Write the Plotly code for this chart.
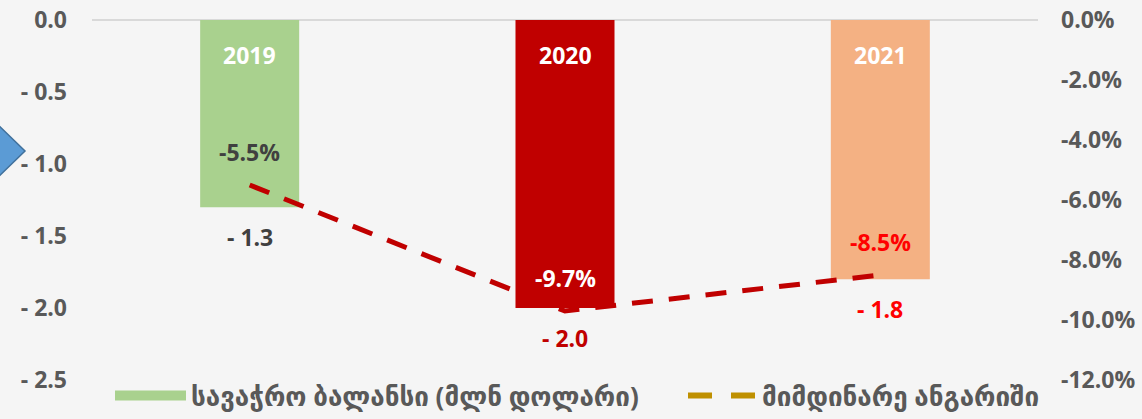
import plotly.graph_objects as go

# ---- data ----
years = ["2019", "2020", "2021"]
trade_balance = [-1.3, -2.0, -1.8]          # bn USD (left axis)
current_account = [-5.5, -9.7, -8.5]        # % (right axis)
bar_colors = ["#a9d18e", "#c00000", "#f4b183"]
bar_label_colors = ["#404040", "#c00000", "#ff0000"]
pct_label_colors = ["#404040", "#ffffff", "#ff0000"]
left_ticks = [0.0, -0.5, -1.0, -1.5, -2.0, -2.5]
left_ticktext = ["0.0", "- 0.5", "- 1.0", "- 1.5", "- 2.0", "- 2.5"]
right_ticks = [0, -2, -4, -6, -8, -10, -12]
right_ticktext = ["0.0%", "-2.0%", "-4.0%", "-6.0%", "-8.0%", "-10.0%", "-12.0%"]
name_bar = "სავაჭრო ბალანსი (მლნ დოლარი)"
name_line = "მიმდინარე ანგარიში"

FONT = "Open Sans, DejaVu Sans, sans-serif"
GREY = "#595959"

W, H = 1142, 419
ML, MR, MT, MB = 92, 104, 20, 39
PW, PH = W - ML - MR, H - MT - MB

fig = go.Figure()

fig.add_trace(go.Bar(
    x=years, y=trade_balance, marker=dict(color=bar_colors, line=dict(width=0)),
    width=0.314, name=name_bar, showlegend=False, yaxis="y", hoverinfo="skip",
))

fig.add_trace(go.Scatter(
    x=years, y=current_account, mode="lines", yaxis="y2",
    line=dict(color="#c00000", width=5, dash="21px,16px"),
    showlegend=False, name=name_line, hoverinfo="skip",
))

# legend-only entries (legend swatches differ from the drawn marks in the original)
fig.add_trace(go.Scatter(
    x=[None], y=[None], mode="lines", yaxis="y",
    line=dict(color=bar_colors[0], width=15),
    name=name_bar, showlegend=True, legend="legend",
))
fig.add_trace(go.Scatter(
    x=[None], y=[None], mode="lines", yaxis="y2",
    line=dict(color="#bf9000", width=6, dash="24px,19px"),
    name=name_line, showlegend=True, legend="legend2",
))

annotations = []
for i, (yr, v, c) in enumerate(zip(years, trade_balance, bar_label_colors)):
    annotations.append(dict(x=i, y=0, xref="x", yref="y", text=yr, showarrow=False,
                            yshift=-35, font=dict(family=FONT, size=23, color="#ffffff", weight="bold")))
    annotations.append(dict(x=i, y=v, xref="x", yref="y", text=f"- {abs(v):.1f}", showarrow=False,
                            yshift=-30, font=dict(family=FONT, size=23, color=c, weight="bold")))
for i, (yr, v, c) in enumerate(zip(years, current_account, pct_label_colors)):
    annotations.append(dict(x=i, y=v, xref="x", yref="y2", text=f"{v:.1f}%", showarrow=False,
                            yshift=33, font=dict(family=FONT, size=23, color=c, weight="bold")))

def px(xp):
    return (xp - ML) / PW

def py(yp):
    return (H - MB - yp) / PH

arrow_path = (f"M {px(-6)} {py(121)} L {px(25)} {py(151)} L {px(-6)} {py(181)} Z")

legend_font = dict(family=FONT, size=26, color=GREY, weight="bold")

fig.update_layout(
    width=W, height=H,
    margin=dict(l=ML, r=MR, t=MT, b=MB, autoexpand=False),
    paper_bgcolor="#f5f5f5", plot_bgcolor="#f5f5f5",
    font=dict(family=FONT, color=GREY, size=18, weight="bold"),
    barmode="overlay",
    xaxis=dict(type="category", range=[-0.5, 2.5], showticklabels=False, showgrid=False,
               zeroline=False, showline=False, fixedrange=True),
    yaxis=dict(range=[-2.5, 0], tickvals=left_ticks, ticktext=left_ticktext, showgrid=False,
               zeroline=True, zerolinecolor="#d9d9d9", zerolinewidth=2, showline=False,
               ticks="", ticklabelstandoff=24,
               tickfont=dict(family=FONT, size=23, color=GREY, weight="bold")),
    yaxis2=dict(range=[-12, 0], overlaying="y", side="right", tickvals=right_ticks,
                ticktext=right_ticktext, showgrid=False, zeroline=False, showline=False,
                ticks="", ticklabelstandoff=22,
                tickfont=dict(family=FONT, size=23, color=GREY, weight="bold")),
    legend=dict(orientation="h", x=px(110), y=py(419), yanchor="bottom", xanchor="left",
                bgcolor="rgba(0,0,0,0)", itemwidth=71, font=legend_font),
    legend2=dict(orientation="h", x=px(683), y=py(419), yanchor="bottom", xanchor="left",
                 bgcolor="rgba(0,0,0,0)", itemwidth=69, font=legend_font),
    annotations=annotations,
    shapes=[dict(type="path", xref="paper", yref="paper", path=arrow_path,
                 fillcolor="#5b9bd5", line=dict(color="#41719c", width=1.5), layer="above")],
    showlegend=True,
)

fig.write_html("out.html", config={"displayModeBar": False},
               post_script="document.body.style.margin='0';document.body.style.overflow='hidden';")
